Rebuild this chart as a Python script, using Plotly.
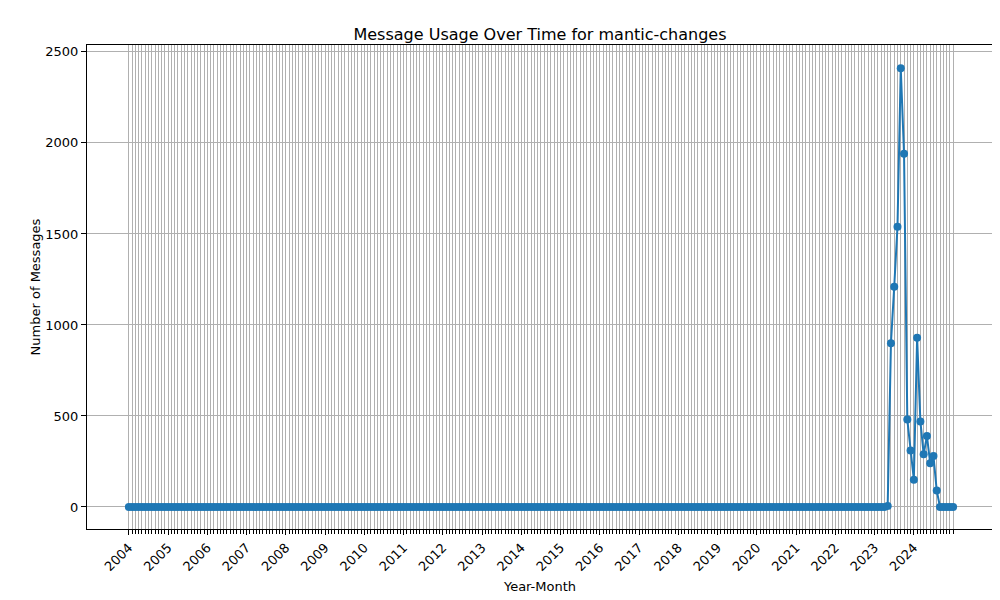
import numpy as np
import plotly.graph_objects as go

months = [f"{y}-{m:02d}" for y in range(2004, 2025) for m in range(1, 13)] + ["2025-01"]

# non-zero activity from 2023-05 onwards
recent = {
    "2023-05": 5, "2023-06": 900, "2023-07": 1210, "2023-08": 1540,
    "2023-09": 2410, "2023-10": 1940, "2023-11": 480, "2023-12": 310,
    "2024-01": 150, "2024-02": 930, "2024-03": 470, "2024-04": 290,
    "2024-05": 390, "2024-06": 240, "2024-07": 280, "2024-08": 90,
}
counts = [recent.get(m, 0) for m in months]
x = np.arange(len(months))

tick_pos = [i for i, m in enumerate(months) if m.endswith("-01") and int(m[:4]) <= 2024]
tick_text = [months[i][:4] for i in tick_pos]
minor_pos = [i for i in x if i not in tick_pos]

fig = go.Figure(go.Scatter(
    x=x, y=counts, mode="lines+markers", text=months,
    line=dict(color="#1f77b4", width=2),
    marker=dict(color="#1f77b4", size=8),
    hovertemplate="%{text}: %{y}<extra></extra>",
))

axis_common = dict(showline=True, linecolor="black", mirror=True, ticks="outside",
                   tickcolor="black", zeroline=False, automargin=False,
                   tickfont=dict(size=13, color="black"))
fig.update_xaxes(range=[-12.8, 264.2], tickvals=tick_pos, ticktext=tick_text, tickangle=-45,
                 showgrid=True, gridcolor="#b0b0b0", gridwidth=1,
                 minor=dict(tickmode="array", tickvals=minor_pos, showgrid=True,
                            gridcolor="#b0b0b0", gridwidth=1,
                            ticks="outside", ticklen=4, tickcolor="black"),
                 title=dict(text="Year-Month", font=dict(size=13, color="black"), standoff=8),
                 **axis_common)
fig.update_yaxes(range=[-121, 2538], tickvals=[0, 500, 1000, 1500, 2000, 2500],
                 showgrid=True, gridcolor="#b0b0b0",
                 title=dict(text="Number of Messages", font=dict(size=13, color="black")),
                 **axis_common)
fig.update_layout(
    width=1000, height=600, template="none",
    title=dict(text="Message Usage Over Time for mantic-changes", x=0.532, y=0.965,
               font=dict(size=16, color="black")),
    font=dict(family="DejaVu Sans"),
    margin=dict(l=79, r=15, t=37, b=79),
    plot_bgcolor="white", paper_bgcolor="white", showlegend=False,
)
fig.write_html("out.html")
